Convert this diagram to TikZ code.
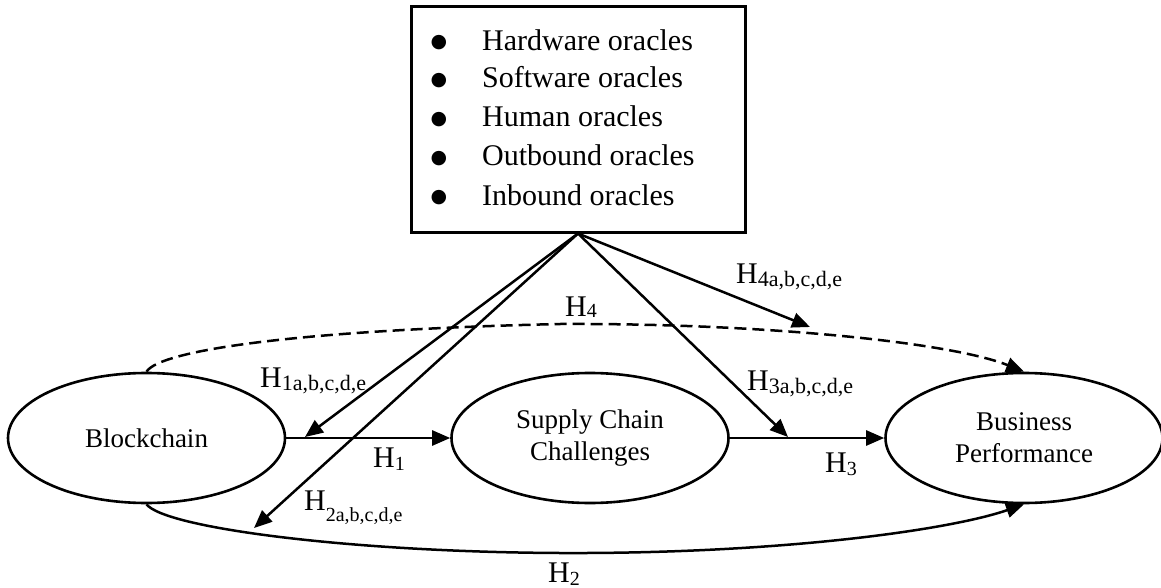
\documentclass[tikz,border=0pt]{standalone}
\usepackage{fontspec}
\setmainfont{Liberation Serif}
\newfontfamily\dejavu{DejaVu Sans}
\usetikzlibrary{arrows.meta,shapes.geometric}
\newcommand{\hsub}[3]{\raisebox{-#1pt}{\fontsize{#2}{#2}\selectfont #3}}
\begin{document}
\begin{tikzpicture}[x=1pt,y=-1pt,
  ell/.style={draw,ellipse,line width=2.6pt,minimum width=277pt,minimum height=130pt,inner sep=0pt,align=center,font=\fontsize{27}{32}\selectfont},
  obox/.style={draw,rectangle,line width=3pt,minimum width=334pt,minimum height=225pt,inner sep=0pt},
  item/.style={anchor=base west,inner sep=0pt,font=\fontsize{30}{36}\selectfont},
  bul/.style={anchor=base,inner sep=0pt,font=\dejavu\fontsize{19}{22}\selectfont},
  lbl/.style={anchor=base west,inner sep=0pt,font=\fontsize{30}{36}\selectfont},
  arr/.style={line width=2.5pt,-{Triangle[length=18pt,width=15pt]}},
  dsh/.style={arr,dash pattern=on 12pt off 6pt}]
\useasboundingbox (0,0) rectangle (1161,588);
\fill[white] (0,0) rectangle (1161,588);

% nodes
\node[obox] (orc) at (578,119.5) {};
\node[bul] (b1) at (439,48) {●};
\node[bul] (b2) at (439,86) {●};
\node[bul] (b3) at (439,125) {●};
\node[bul] (b4) at (439,164) {●};
\node[bul] (b5) at (439,203) {●};
\node[item] (i1) at (482,51) {Hardware oracles};
\node[item] (i2) at (482,88) {Software oracles};
\node[item] (i3) at (482,127) {Human oracles};
\node[item] (i4) at (482,166) {Outbound oracles};
\node[item] (i5) at (482,205) {Inbound oracles};

\node[ell] (bc) at (146.5,438) {Blockchain};
\node[ell] (scc) at (590,438) {Supply Chain\\Challenges};
\node[ell] (bp) at (1024,438) {Business\\Performance};

% free ends
\coordinate (apex) at (orc.south);
\coordinate (t1) at (305,437);
\coordinate (t2) at (254,528);
\coordinate (t3) at (788,437);
\coordinate (t4) at (810,327);

% connectors
\draw[arr] (bc.east) -- (scc.west);
\draw[arr] (scc.east) -- (bp.west);
\draw[arr] (apex) -- (t1);
\draw[arr] (apex) -- (t2);
\draw[arr] (apex) -- (t3);
\draw[arr] (apex) -- (t4);
\draw[dsh] (bc.north) .. controls (160,350) and (300,330) .. (560,324)
  .. controls (760,323) and (950,342) .. (bp.north);
\draw[arr] (bc.south) .. controls (165,528) and (350,552) .. (560,553)
  .. controls (780,554) and (950,530) .. (bp.south);

% labels
\node[lbl] (l4) at (565,316) {H\hsub{1}{20}{4}};
\node[lbl] (l4x) at (736,283) {H\hsub{3}{22}{4a,b,c,d,e}};
\node[lbl] (l1x) at (260,387) {H\hsub{3}{22}{1a,b,c,d,e}};
\node[lbl] (l1) at (373,467) {H\hsub{3}{20}{1}};
\node[lbl] (l2x) at (304,510) {H\hsub{11}{20}{2a,b,c,d,e}};
\node[lbl] (l3x) at (747,390) {H\hsub{3}{22}{3a,b,c,d,e}};
\node[lbl] (l3) at (825,472) {H\hsub{3}{20}{3}};
\node[lbl] (l2) at (548,582) {H\hsub{3}{20}{2}};
\end{tikzpicture}
\end{document}
